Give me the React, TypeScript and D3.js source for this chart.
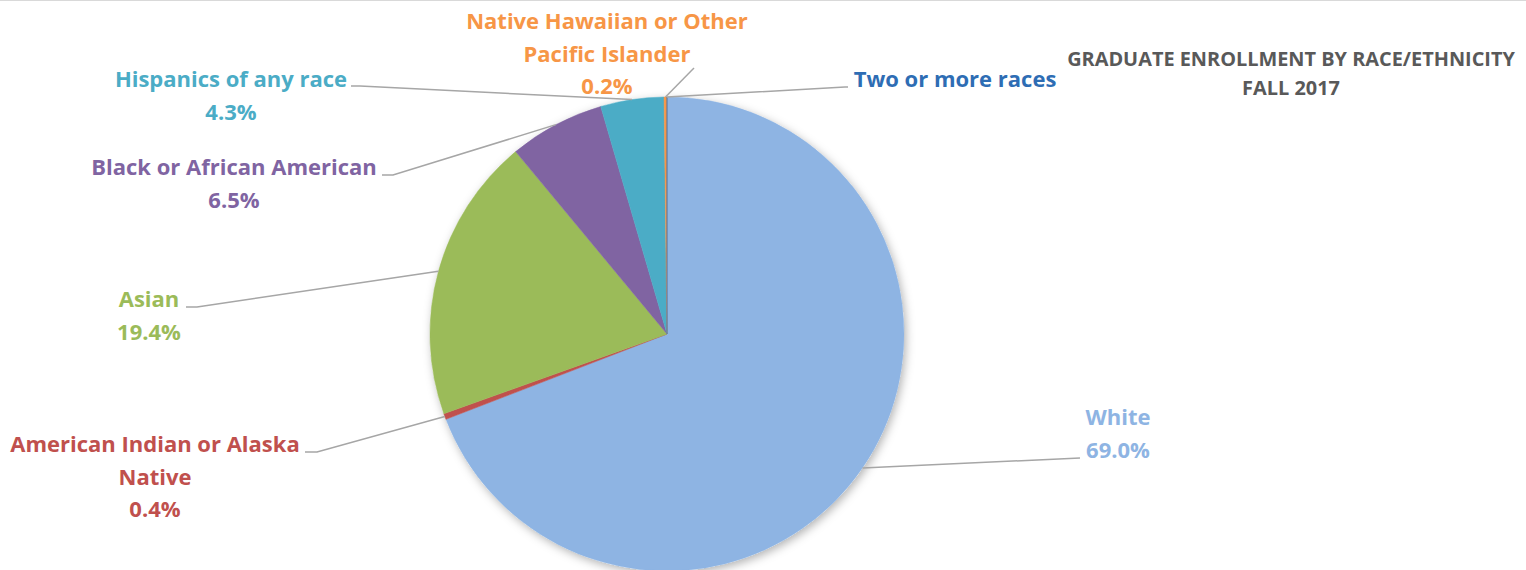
import * as d3 from 'd3';
import React, { ReactElement, useEffect, useRef } from 'react';

const W = 1526;
const H = 570;

// chart data, clockwise from 12 o'clock
const categories = [
  'White',
  'American Indian or Alaska Native',
  'Asian',
  'Black or African American',
  'Hispanics of any race',
  'Native Hawaiian or Other Pacific Islander',
  'Two or more races',
];
const shares = [69.0, 0.4, 19.4, 6.5, 4.3, 0.2, 0.0];
const showPercent = [true, true, true, true, true, true, false];
const titleLines = ['GRADUATE ENROLLMENT BY RACE/ETHNICITY', 'FALL 2017'];

const sliceColors = ['#8eb4e3', '#c0504d', '#9bbb59', '#8064a2', '#4bacc6', '#f79646', '#2c6db5'];
const labelColors = ['#8eb4e3', '#c0504d', '#9bbb59', '#8064a2', '#4bacc6', '#f79646', '#2e6db4'];

// label placement (layout only): text centre x, first baseline, wrapped lines, leader elbow
const labelLayout = [
  { x: 1118, y: 425, lines: ['White'], elbow: [1080, 458], tail: [1080, 458] },
  { x: 155, y: 452, lines: ['American Indian or Alaska', 'Native'], elbow: [305, 452], tail: [317, 452] },
  { x: 149, y: 307, lines: ['Asian'], elbow: [186, 307], tail: [197, 307] },
  { x: 234, y: 175, lines: ['Black or African American'], elbow: [382, 175], tail: [393, 175] },
  { x: 231, y: 87, lines: ['Hispanics of any race'], elbow: [351, 86], tail: [360, 86] },
  { x: 607, y: 29, lines: ['Native Hawaiian or Other', 'Pacific Islander'], elbow: [694, 68], tail: [694, 68] },
  { x: 955, y: 87, lines: ['Two or more races'], elbow: [848, 87], tail: [845, 87] },
];

const CX = 667;
const CY = 334;
const R = 237;
const LINE_H = 32.5;
const FONT = '"Open Sans", Lato, sans-serif';

const PieChart = (): ReactElement => {
  const ref = useRef<HTMLDivElement>(null);

  useEffect(() => {
    const root = d3.select(ref.current);
    root.selectAll('svg').remove();

    const svg = root
      .append('svg')
      .attr('width', W)
      .attr('height', H)
      .style('position', 'absolute')
      .style('left', 0)
      .style('top', 0)
      .style('background', '#fff');

    const defs = svg.append('defs');
    const f = defs
      .append('filter')
      .attr('id', 'pieShadow')
      .attr('x', '-10%')
      .attr('y', '-10%')
      .attr('width', '120%')
      .attr('height', '120%');
    f.append('feDropShadow')
      .attr('dx', 2)
      .attr('dy', 3)
      .attr('stdDeviation', 5)
      .attr('flood-color', '#000')
      .attr('flood-opacity', 0.3);

    svg
      .append('line')
      .attr('x1', 0)
      .attr('x2', W)
      .attr('y1', 0.5)
      .attr('y2', 0.5)
      .attr('stroke', '#d9d9d9')
      .attr('stroke-width', 1);

    const data = categories.map((c, i) => ({ name: c, value: shares[i], i }));
    const pie = d3
      .pie<any>()
      .sort(null)
      .value((d) => d.value)
      .startAngle(0)
      .endAngle(Math.PI * 2);
    const arcs = pie(data);

    const arc = d3.arc<any>().innerRadius(0).outerRadius(R);

    const g = svg.append('g').attr('transform', `translate(${CX},${CY})`);
    g.append('circle').attr('r', R).attr('fill', '#fff').attr('filter', 'url(#pieShadow)');
    g.selectAll('path')
      .data(arcs)
      .enter()
      .append('path')
      .attr('d', arc)
      .attr('fill', (d) => sliceColors[d.data.i])
      .attr('stroke', (d) => sliceColors[d.data.i])
      .attr('stroke-width', 0.5);

    // leader lines
    arcs.forEach((a) => {
      const lay = labelLayout[a.data.i];
      const mid = (a.startAngle + a.endAngle) / 2;
      const px = CX + R * Math.sin(mid);
      const py = CY - R * Math.cos(mid);
      const pts: [number, number][] = [
        [lay.elbow[0], lay.elbow[1]],
        [lay.tail[0], lay.tail[1]],
        [px, py],
      ];
      svg
        .append('path')
        .attr('d', d3.line()(pts))
        .attr('fill', 'none')
        .attr('stroke', '#a6a6a6')
        .attr('stroke-width', 1.5);
    });

    // labels
    arcs.forEach((a) => {
      const i = a.data.i;
      const lay = labelLayout[i];
      const lines = [...lay.lines];
      if (showPercent[i]) lines.push(`${d3.format('.1f')(shares[i])}%`);
      const t = svg
        .append('text')
        .attr('text-anchor', 'middle')
        .attr('font-family', FONT)
        .attr('font-weight', 700)
        .attr('font-size', 22)
        .attr('fill', labelColors[i]);
      lines.forEach((ln, k) => {
        t.append('tspan')
          .attr('x', lay.x)
          .attr('y', lay.y + k * LINE_H)
          .text(ln);
      });
    });

    // title
    const tt = svg
      .append('text')
      .attr('text-anchor', 'middle')
      .attr('font-family', FONT)
      .attr('font-weight', 700)
      .attr('font-size', 19.9)
      .attr('fill', '#595959');
    titleLines.forEach((ln, k) => {
      tt.append('tspan')
        .attr('x', 1291)
        .attr('y', 65.5 + k * 29.5)
        .text(ln);
    });

    return () => {
      root.selectAll('svg').remove();
    };
  }, []);

  return <div ref={ref}></div>;
};

export default function App(): ReactElement {
  return <PieChart />;
}
